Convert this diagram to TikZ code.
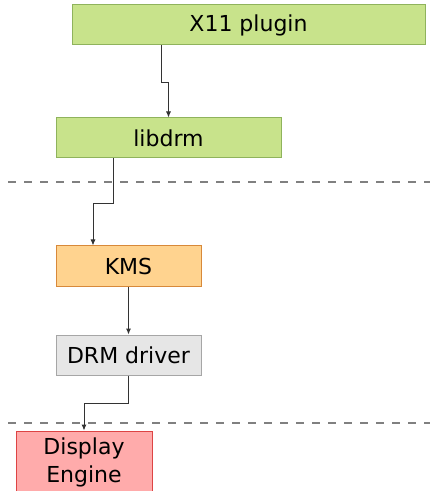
\documentclass[tikz,border=0pt]{standalone}
\usepackage{fontspec}
\setmainfont{DejaVu Sans}
\usepackage{tikz}
\usetikzlibrary{fit}
\usetikzlibrary{arrows.meta}
\definecolor{userfill}{HTML}{C8E38B}
\definecolor{userline}{HTML}{8FB35C}
\definecolor{kmsfill}{HTML}{FFD38F}
\definecolor{kmsline}{HTML}{D8893A}
\definecolor{drvfill}{HTML}{E6E6E6}
\definecolor{drvline}{HTML}{A6A6A6}
\definecolor{hwfill}{HTML}{FFABAB}
\definecolor{hwline}{HTML}{DD4444}
\definecolor{wire}{HTML}{333333}

\begin{document}
\begin{tikzpicture}[x=.5pt, y=-.5pt, font=\fontsize{11}{14}\selectfont,
	box/.style={draw, inner sep=0pt, line width=.5pt},
	arr/.style={-{Latex[length=3pt,width=2.6pt]}, draw=wire, line width=.5pt},
	layer/.style={dash pattern=on 3.75pt off 4.25pt, draw=gray, line width=.7pt}]
	\useasboundingbox (0,0) rectangle (430,491);

	\node[box, fit={(72,5) (425,45)}, fill=userfill, draw=userline, label=center:X11 plugin] (x11) {};	% user space
	\node[box, fit={(56,118) (281,158)}, fill=userfill, draw=userline, label=center:libdrm] (libdrm) {};

	\draw[layer] (8,182) -- (430,182);	% kernel
	\node[box, fit={(56,246) (201,286)}, fill=kmsfill, draw=kmsline, label=center:KMS] (kms) {};
	\node[box, fit={(56,335) (201,375)}, fill=drvfill, draw=drvline, label=center:DRM driver] (drv) {};

	\draw[layer] (8,423) -- (430,423);	% hardware
	\node[box, fit={(16,431) (152,494)}, fill=hwfill, draw=hwline,
		label={[align=center]center:Display\\Engine}] (disp) {};

	\draw[arr] ([xshift=-43.75pt]x11.south) -- ++(0,37) -| (libdrm.north);	% calls
	\draw[arr] ([xshift=-27.75pt]libdrm.south) -- ++(0,45) -| ([xshift=-17.75pt]kms.north);
	\draw[arr] (kms) -- (drv);
	\draw[arr] (drv.south) -- ++(0,28) -| (disp.north);
\end{tikzpicture}
\end{document}
